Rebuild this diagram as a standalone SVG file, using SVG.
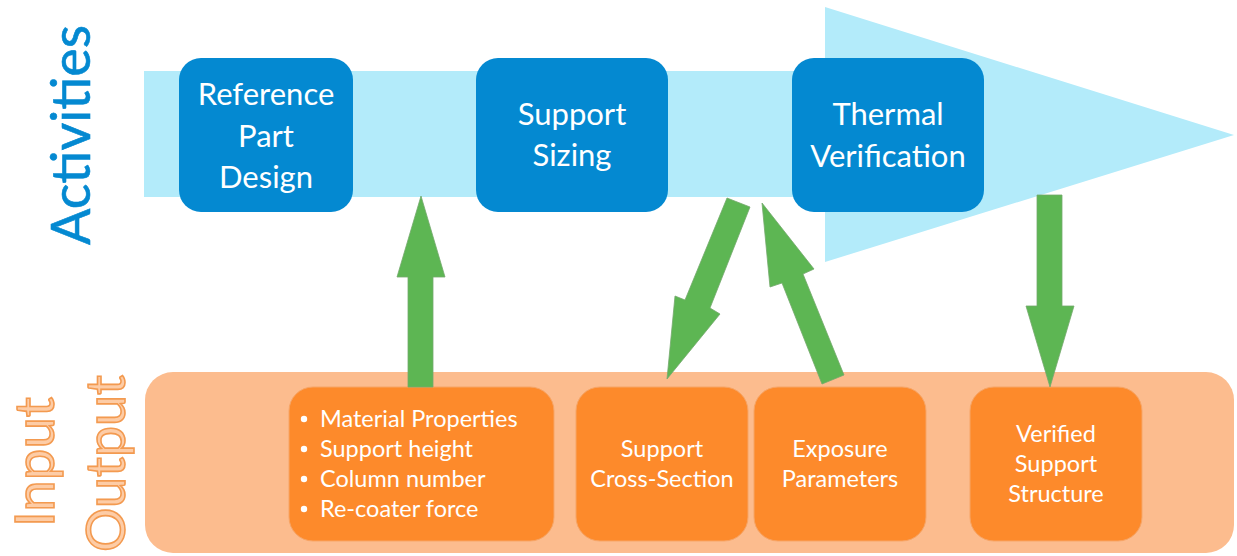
<svg xmlns="http://www.w3.org/2000/svg" width="1237" height="556" viewBox="0 0 1237 556">
  <style>
    .band-top { fill: #B3EBFA; }
    .band-bottom { fill: #FCBC8E; }
    .activity { fill: #0489D1; }
    .io { fill: #FD8A2B; stroke: #F7A566; stroke-width: 1; }
    .label { font-family: Lato, "Liberation Sans", sans-serif; fill: #FFFFFF; text-anchor: middle; }
    .big { font-size: 31px; }
    .small { font-size: 23.5px; }
    .bullet { font-family: Lato, "Liberation Sans", sans-serif; fill: #FFFFFF; font-size: 23.5px; }
    .side { font-family: Lato, "Liberation Sans", sans-serif; font-size: 54px; }
    .io-title { fill: #FDCCA6; stroke: #F39A50; stroke-width: 1.6; }
    .flow { fill: #5DB653; stroke: #74A86C; stroke-width: 0.8; stroke-linejoin: miter; }
  </style>

  <!-- swim-lane headings -->
  <g id="lane-titles">
    <text class="side" fill="#0489D1" stroke="#0489D1" stroke-width="0.6" transform="translate(90,245) rotate(-90)" textLength="220" lengthAdjust="spacingAndGlyphs">Activities</text>
    <text class="side io-title" transform="translate(54,527) rotate(-90)" textLength="130" lengthAdjust="spacingAndGlyphs">Input</text>
    <text class="side io-title" transform="translate(125,552) rotate(-90)" textLength="177" lengthAdjust="spacingAndGlyphs">Output</text>
  </g>

  <!-- process arrow behind the activities -->
  <g id="process-arrow">
    <polygon class="band-top" points="144,71 825,71 825,7 1234,135 825,262 825,197 144,197"/>
  </g>

  <!-- input / output band -->
  <g id="io-band">
    <rect class="band-bottom" x="145" y="372" width="1089" height="181" rx="28" ry="28"/>
  </g>

  <!-- activities -->
  <g id="reference-part-design">
    <rect class="activity" x="179" y="58" width="174" height="154" rx="22" ry="22"/>
    <text class="label big" x="266" y="105">Reference</text>
    <text class="label big" x="266" y="147">Part</text>
    <text class="label big" x="266" y="188">Design</text>
  </g>
  <g id="support-sizing">
    <rect class="activity" x="476" y="58" width="192" height="154" rx="22" ry="22"/>
    <text class="label big" x="572" y="125">Support</text>
    <text class="label big" x="572" y="166">Sizing</text>
  </g>
  <g id="thermal-verification">
    <rect class="activity" x="792" y="58" width="192" height="154" rx="22" ry="22"/>
    <text class="label big" x="888" y="125">Thermal</text>
    <text class="label big" x="888" y="167">Verification</text>
  </g>

  <!-- inputs and outputs -->
  <g id="parameters-list">
    <rect class="io" x="289" y="387" width="265" height="154" rx="24" ry="24"/>
    <circle cx="304" cy="419" r="3.2" fill="#FFFFFF"/>
    <circle cx="304" cy="449" r="3.2" fill="#FFFFFF"/>
    <circle cx="304" cy="479" r="3.2" fill="#FFFFFF"/>
    <circle cx="304" cy="509" r="3.2" fill="#FFFFFF"/>
    <text class="bullet" x="320" y="427">Material Properties</text>
    <text class="bullet" x="320" y="457">Support height</text>
    <text class="bullet" x="320" y="487">Column number</text>
    <text class="bullet" x="320" y="517">Re-coater force</text>
  </g>
  <g id="support-cross-section">
    <rect class="io" x="576" y="387" width="172" height="154" rx="24" ry="24"/>
    <text class="label small" x="662" y="457">Support</text>
    <text class="label small" x="662" y="487">Cross-Section</text>
  </g>
  <g id="exposure-parameters">
    <rect class="io" x="754" y="387" width="172" height="154" rx="24" ry="24"/>
    <text class="label small" x="840" y="457">Exposure</text>
    <text class="label small" x="840" y="487">Parameters</text>
  </g>
  <g id="verified-support-structure">
    <rect class="io" x="970" y="387" width="172" height="154" rx="24" ry="24"/>
    <text class="label small" x="1056" y="442">Verified</text>
    <text class="label small" x="1056" y="472">Support</text>
    <text class="label small" x="1056" y="502">Structure</text>
  </g>

  <!-- block arrows between lanes -->
  <g id="connectors">
    <polygon class="flow" points="421,196 445,277 433,277 433,387 408,387 408,277 397,277"/>
    <polygon class="flow" points="727,198 750,207 710,308 720,314 667,379 675,296 685,300"/>
    <polygon class="flow" points="762,203 814,269 803,274 844,375 822,384 782,283 770,287"/>
    <polygon class="flow" points="1037,195 1062,195 1062,306 1074,306 1050,387 1026,306 1037,306"/>
  </g>
</svg>
